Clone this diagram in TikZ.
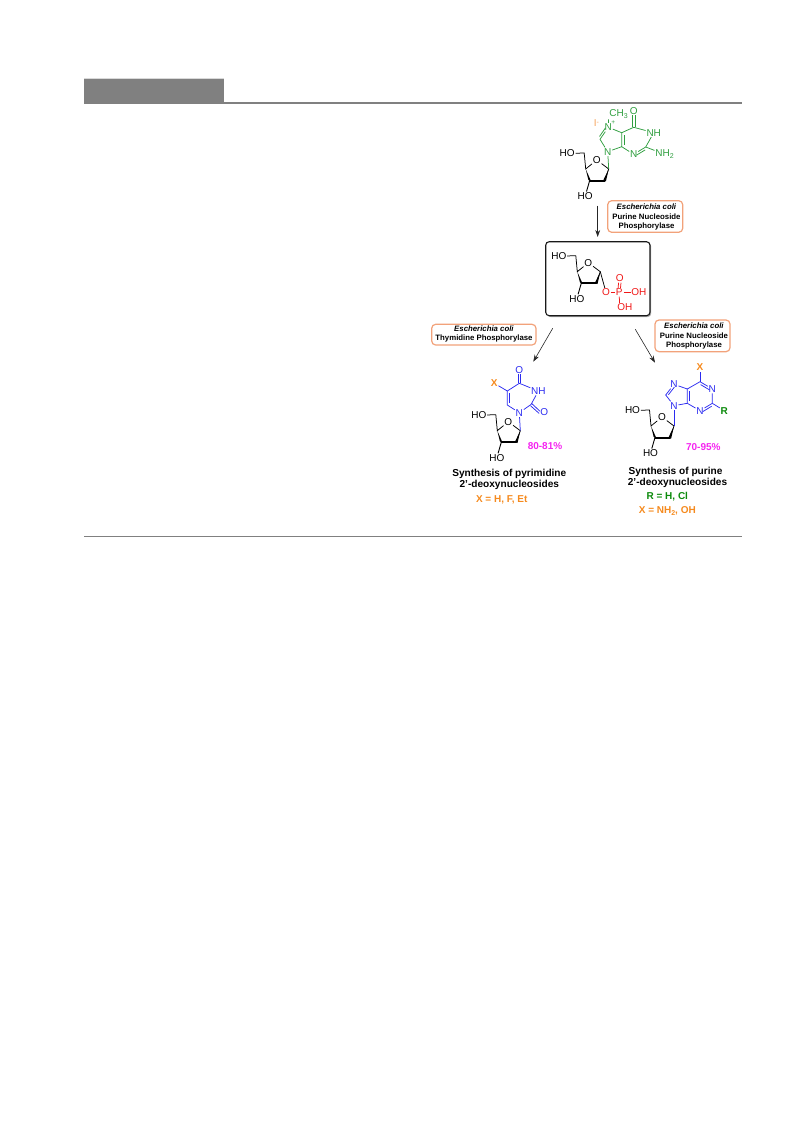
\documentclass[tikz,border=0pt]{standalone}
\usepackage{fontspec}
\setmainfont{Liberation Sans}
\usetikzlibrary{calc,arrows.meta,shadows}
\definecolor{gn}{HTML}{2F9E3F}
\definecolor{dgn}{HTML}{0B8A0B}
\definecolor{bl}{HTML}{2B2BF0}
\definecolor{rd}{HTML}{F01818}
\definecolor{og}{HTML}{F58A1E}
\definecolor{lo}{HTML}{F5A35C}
\definecolor{mg}{HTML}{F524F0}
\definecolor{ob}{HTML}{F2A27A}
\definecolor{hd}{HTML}{808080}
\newcommand\lowsub[1]{\raisebox{-1.8pt}{\fontsize{7}{7}\selectfont #1}}
\tikzset{
  x=1pt,y=-1pt,
  atom/.style={inner sep=0.7pt,font=\fontsize{10}{11}\selectfont},
  batom/.style={inner sep=0.7pt,font=\fontsize{10}{11}\selectfont\bfseries},
  bond/.style={line width=0.75pt},
  enz/.style={draw=ob,line width=1.2pt,rounded corners=4pt,fill=white},
  enztext/.style={align=center,font=\fontsize{7.8}{9.3}\selectfont\bfseries},
  title/.style={align=center,font=\fontsize{10.1}{11.5}\selectfont\bfseries},
  cond/.style={font=\fontsize{10}{11}\selectfont\bfseries},
  yield/.style={text=mg,font=\fontsize{10}{11}\selectfont\bfseries},
  rxn/.style={line width=0.6pt,draw=black!85,-{Stealth[length=7pt,width=4.8pt]}},
  rule/.style={draw=hd,line width=2pt},
  rulethin/.style={draw=hd,line width=1.3pt}
}
\newcommand\inbond[4][]{\draw[bond,#1] ($(#2)!0.14!(#3)!#4!90:(#3)$) -- ($(#2)!0.86!(#3)!#4!90:(#3)$);}
% deoxyribose: #1 prefix, (#2,#3) ring oxygen position
\newcommand\sugar[3]{%
\begin{scope}[shift={(#2,#3)}]
  \node[atom] (#1O) at (0,0) {O};
  \coordinate (#1c1) at (12,9);
  \coordinate (#1c2) at (8,20.5);
  \coordinate (#1c3) at (-7,20.5);
  \coordinate (#1c4) at (-11,9);
  \coordinate (#1c5) at (-12.5,-7);
  \node[atom] (#1ho) at (-29.5,-6.5) {HO};
  \node[atom] (#1hob) at (-11.5,36) {HO};
  \draw[bond] (#1O) -- (#1c1) -- (#1c2);
  \draw[bond] (#1O) -- (#1c4) -- (#1c5) -- (#1ho);
  \draw[line width=0.9pt] (#1c3) -- (#1hob);
  \fill (#1c4) -- (-5.6,21.3) -- (-8.4,19.7) -- cycle;
  \draw[line width=2pt,line cap=round] (#1c3) -- (#1c2);
  \fill (#1c1) -- (9.2,21.3) -- (6.8,19.7) -- cycle;
\end{scope}}
\begin{document}
\begin{tikzpicture}
\useasboundingbox (0,0) rectangle (793,1121);
% page furniture
\fill[hd] (84,78) rectangle (224,103);
\draw[draw=black!15,line width=0.5pt] (84,78) -- (224,78);
\coordinate (ruleA) at (84,102.6);
\coordinate (ruleB) at (742,102.6);
\coordinate (ruleC) at (84,536.5);
\coordinate (ruleD) at (742,536.5);
\draw[rule] (ruleA) -- (ruleB);
\draw[rulethin] (ruleC) -- (ruleD);

% --- top: N7-methyl-2'-deoxyguanosine
\sugar{a}{596.7}{160}
\begin{scope}[every node/.append style={text=gn},gn]
  \node[atom] (g7) at (608.3,127.3) {N};
  \node[atom,font=\fontsize{6.5}{7}\selectfont] (gplus) at (613.3,123) {+};
  \node[atom,anchor=west] (gme) at (608.5,114) {CH\lowsub{3}};
  \node[atom] (g9) at (607.7,151.7) {N};
  \node[atom] (g3) at (633.7,154.3) {N};
  \node[atom,anchor=west] (g1) at (645.6,132.7) {NH};
  \node[atom] (go) at (633.7,111) {O};
  \node[atom,anchor=west] (gn2) at (654.5,154.3) {NH\lowsub{2}};
  \coordinate (g6) at (633.7,127.3);
  \coordinate (g5) at (621.7,132.7);
  \coordinate (g4) at (621.7,146.7);
  \coordinate (g2) at (645.7,147);
  \coordinate (g8) at (600,139.3);
  \draw[bond] (g7) -- (g8) -- (g9) -- (g4) -- (g5) -- (g7);
  \draw[bond] (g5) -- (g6) -- (g1) -- (g2) -- (g3) -- (g4);
  \draw[bond] (g2) -- (gn2);
  \draw[bond] (g7) -- (gme.south west);
  \inbond{g4}{g5}{-2.2pt}
  \inbond{g3}{g2}{-2.2pt}
  \inbond{g7}{g8}{-2pt}
  \draw[bond] ($(g6)+(-1.2,0)$) -- ($(go.south)+(-1.2,0)$);
  \draw[bond] ($(g6)+(1.2,0)$) -- ($(go.south)+(1.2,0)$);
\end{scope}
\node[atom,text=lo] (iod) at (596.3,123.3) {I\raisebox{2.5pt}{\fontsize{7}{7}\selectfont -}};
\draw[bond,gn] (g9) -- (ac1);

% arrow and enzyme 1
\coordinate (ar1s) at (597.7,205.7);
\coordinate (ar1e) at (597.7,237);
\draw[rxn] (ar1s) -- (ar1e);
\draw[enz] (607.7,200.7) rectangle (682.7,232.3);
\node[enztext] (e1) at (646.5,217) {\textit{Escherichia coli}\\Purine Nucleoside\\Phosphorylase};

% --- central intermediate
\fill[black!35,rounded corners=3.5pt] (547,243) rectangle (651.2,317);
\draw[draw=black!90,line width=1.1pt,rounded corners=3.5pt,fill=white] (545.7,241.7) rectangle (650,315.7);
\sugar{b}{588.3}{262.7}
\begin{scope}[every node/.append style={text=rd},rd]
  \node[atom] (po) at (606,292.3) {O};
  \node[atom] (pp) at (619.3,292.3) {P};
  \node[atom,anchor=west] (poh) at (630.5,292.3) {OH};
  \node[atom] (pdo) at (619.8,278.3) {O};
  \node[atom,anchor=west] (poh2) at (616.5,306.7) {OH};
  \draw[bond] (po) -- (pp) -- (poh);
  \draw[bond] (pp.south) -- ($(poh2.north west)+(3,0.5)$);
  \draw[bond] ($(pp.north)+(-1.2,0)$) -- ($(pdo.south)+(-1.2,0)$);
  \draw[bond] ($(pp.north)+(1.2,0)$) -- ($(pdo.south)+(1.2,0)$);
\end{scope}
\draw[bond,black] (bc1) -- (po);

% left branch
\coordinate (ar2s) at (552.7,328.3);
\coordinate (ar2e) at (533.3,361.7);
\draw[rxn] (ar2s) -- (ar2e);
\draw[enz] (431.7,324.3) rectangle (536,345);
\node[enztext] (e2) at (484,334.2) {\textit{Escherichia coli}\\Thymidine Phosphorylase};

\sugar{c}{508.3}{421.7}
\begin{scope}[every node/.append style={text=bl},bl]
  \node[atom] (t1) at (519.3,412.7) {N};
  \node[atom,anchor=west] (t3) at (530.3,391) {NH};
  \node[atom] (to4) at (519.3,370) {O};
  \node[atom] (to2) at (544.3,412.3) {O};
  \coordinate (t4) at (519.3,383.3);
  \coordinate (t5) at (507.3,391);
  \coordinate (t6) at (507.3,405);
  \coordinate (t2) at (531,404.5);
  \draw[bond] (t1) -- (t6) -- (t5) -- (t4) -- (t3) -- (t2) -- (t1);
  \inbond{t6}{t5}{-2.2pt}
  \draw[bond] ($(t4)+(-1.2,0)$) -- ($(to4.south)+(-1.2,0)$);
  \draw[bond] ($(t4)+(1.2,0)$) -- ($(to4.south)+(1.2,0)$);
  \draw[bond] ($(t2)+(0.6,-1.1)$) -- ($(to2.west)+(0.4,-1.1)$);
  \draw[bond] ($(t2)+(-0.6,1.1)$) -- ($(to2.west)+(-0.4,1.1)$);
\end{scope}
\node[batom,text=og] (tx) at (494.3,383.3) {X};
\draw[bond,bl] (t5) -- (tx);
\draw[bond,bl] (cc1) -- (t1);
\node[yield] (y1) at (545,445.7) {80-81\%};
\node[title] (s1) at (509.3,479.6) {Synthesis of pyrimidine\\2'-deoxynucleosides};
\node[cond,text=og] (c1) at (501.7,500) {X = H, F, Et};

% right branch
\coordinate (ar3s) at (635.3,329.3);
\coordinate (ar3e) at (655,362.7);
\draw[rxn] (ar3s) -- (ar3e);
\draw[enz] (655,320) rectangle (730,351.7);
\node[enztext] (e3) at (694,336.2) {\textit{Escherichia coli}\\Purine Nucleoside\\Phosphorylase};

\sugar{d}{662}{417}
\begin{scope}[every node/.append style={text=bl},bl]
  \node[atom] (p7) at (674,384.3) {N};
  \node[atom] (p9) at (674,405.7) {N};
  \node[atom] (p1) at (712.3,389) {N};
  \node[atom] (p3) at (700,410.7) {N};
  \coordinate (p6) at (700,381.7);
  \coordinate (p5) at (687.3,389);
  \coordinate (p4) at (687.3,403.3);
  \coordinate (p2) at (712.3,403.3);
  \coordinate (p8) at (665.7,395);
  \draw[bond] (p9) -- (p8) -- (p7) -- (p5) -- (p4) -- (p9);
  \draw[bond] (p5) -- (p6) -- (p1) -- (p2) -- (p3) -- (p4);
  \inbond{p4}{p5}{-2.2pt}
  \inbond{p6}{p1}{-2.2pt}
  \inbond{p3}{p2}{-2.2pt}
  \inbond{p8}{p7}{-2pt}
\end{scope}
\node[batom,text=og] (px) at (700,367.3) {X};
\node[batom,text=dgn] (pr) at (724.3,410.7) {R};
\draw[bond,bl] (p6) -- (px);
\draw[bond,bl] (p2) -- (pr);
\draw[bond,bl] (dc1) -- (p9);
\node[yield] (y2) at (703.3,446.7) {70-95\%};
\node[title,anchor=center] (s2a) at (675.5,471.4) {Synthesis of purine};
\node[title,anchor=center] (s2b) at (677.5,483.2) {2'-deoxynucleosides};
\node[cond,text=dgn] (c2) at (667.3,496.7) {R = H, Cl};
\node[cond,text=og] (c3) at (667.3,510.7) {X = NH\lowsub{2}, OH};
\end{tikzpicture}
\end{document}
